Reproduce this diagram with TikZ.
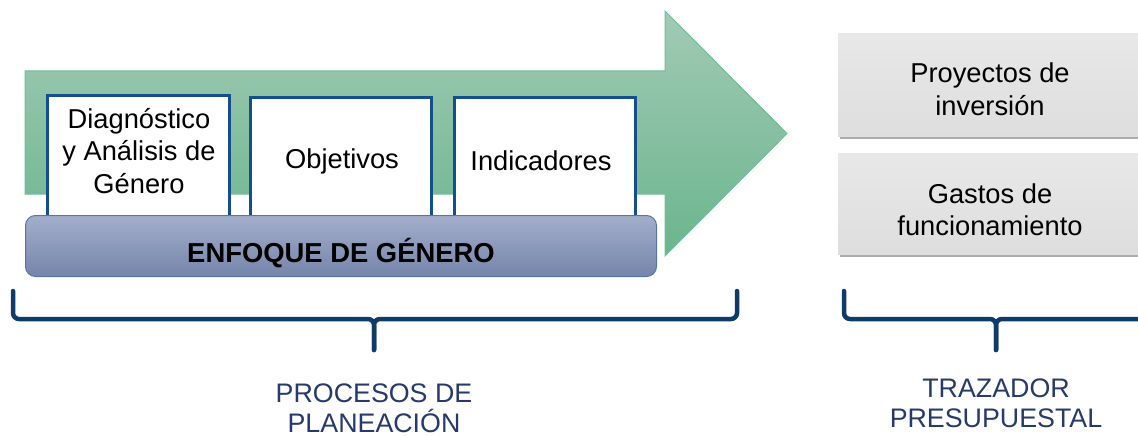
\documentclass[tikz,border=0pt]{standalone}
\usepackage{fontspec}
\setmainfont{Liberation Sans}
\usetikzlibrary{shadows}
\definecolor{arrowtop}{HTML}{A2CAB4}
\definecolor{arrowbot}{HTML}{6AB58E}
\definecolor{arrowline}{HTML}{6CC09A}
\definecolor{boxline}{RGB}{20,78,140}
\definecolor{bartop}{HTML}{A3AECA}
\definecolor{barbot}{HTML}{7585AB}
\definecolor{barline}{HTML}{5776A8}
\definecolor{bracecol}{RGB}{15,59,105}
\definecolor{labcol}{RGB}{38,58,107}
\definecolor{graytop}{HTML}{E8E8E8}
\definecolor{graybot}{HTML}{DEDEDE}
\begin{document}
\begin{tikzpicture}[x=1pt,y=-1pt,
  boxfont/.style={font=\fontsize{27.3}{32.5}\selectfont},
  procbox/.style={draw=boxline, line width=3pt, fill=white, inner sep=0pt},
  boxtext/.style={boxfont, align=center, inner sep=0pt, text=black},
  barbox/.style={draw=barline, line width=1pt, top color=bartop, bottom color=barbot, rounded corners=10pt, inner sep=0pt},
  graybox/.style={top color=graytop, bottom color=graybot, inner sep=0pt,
     drop shadow={shadow xshift=1.5pt, shadow yshift=-3pt, fill=black!60, opacity=0.55}},
  brace/.style={draw=bracecol, line width=4.5pt, rounded corners=6pt, line cap=round},
  bottomlab/.style={font=\fontsize{26.8}{30}\selectfont, align=center, text=labcol, inner sep=0pt}
]
\useasboundingbox (0,0) rectangle (1138,436);
\clip (0,0) rectangle (1138,436);
\fill[white] (0,0) rectangle (1138,436);

% big arrow
\shade[draw=arrowline, line width=1pt, top color=arrowtop, bottom color=arrowbot]
  (25,71) -- (665,71) -- (665,11) -- (787,133.5) -- (665,256) -- (665,194) -- (25,194) -- cycle;

% process boxes
\node[procbox, minimum width=182pt, minimum height=136pt] (b1) at (138.5,163.5) {};
\node[procbox, minimum width=181pt, minimum height=134pt] (b2) at (341,164.5) {};
\node[procbox, minimum width=181pt, minimum height=134pt] (b3) at (545,164.5) {};
\node[boxtext] (t1) at (139,151) {Diagnóstico\\y Análisis de\\Género};
\node[boxtext] (t2) at (342,161) {Objetivos};
\node[boxtext] (t3) at (541,161) {Indicadores};

% gender bar
\node[barbox, minimum width=631pt, minimum height=61pt] (bar) at (341,246) {};
\node[font=\fontsize{27.4}{30}\selectfont\bfseries, anchor=base, inner sep=0pt] (bartxt) at (341,262) {ENFOQUE DE GÉNERO};

% right gray boxes
\node[graybox, minimum width=304pt, minimum height=102pt] (gp) at (990,85) {};
\node[graybox, minimum width=304pt, minimum height=101pt] (gg) at (990,203.5) {};
\node[boxtext] (tp) at (990,89) {Proyectos de\\inversión};
\node[boxtext] (tg) at (990,209.5) {Gastos de\\funcionamiento};

% left brace
\coordinate (la) at (13,291);
\coordinate (lm) at (374,319);
\coordinate (lb) at (737,291);
\coordinate (ls) at (374,350);
\draw[brace] (la) |- (lm) -- (ls);
\draw[brace] (lb) |- (lm) -- (ls);

% right brace
\coordinate (ra) at (844,291);
\coordinate (rm) at (996,319);
\coordinate (rb) at (1150,291);
\coordinate (rs) at (996,350);
\draw[brace] (ra) |- (rm) -- (rs);
\draw[brace] (rb) |- (rm) -- (rs);

% labels
\node[bottomlab] (lproc) at (374,408) {PROCESOS DE\\PLANEACIÓN};
\node[bottomlab] (ltraz) at (996,403) {TRAZADOR\\PRESUPUESTAL};
\end{tikzpicture}
\end{document}
